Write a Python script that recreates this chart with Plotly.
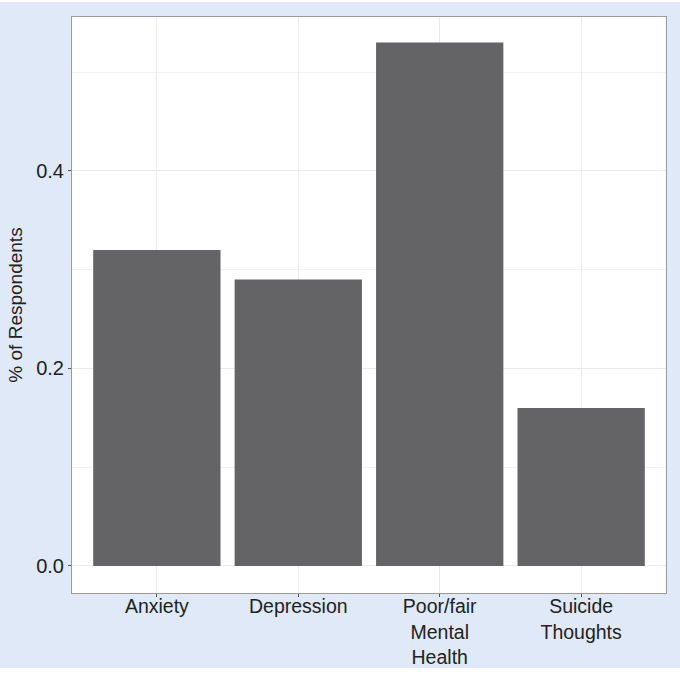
import plotly.graph_objects as go

categories = ["Anxiety", "Depression", "Poor/fair<br>Mental<br>Health", "Suicide<br>Thoughts"]
values = [0.32, 0.29, 0.53, 0.16]
y_tick_vals = [0.0, 0.2, 0.4]
y_tick_text = ["0.0", "0.2", "0.4"]

BLUE = "#dfe9f7"
FONT = "Liberation Sans, Arial, sans-serif"

fig = go.Figure()
fig.add_trace(go.Bar(
    x=list(range(len(categories))), y=values,
    marker=dict(color="#646467", line=dict(width=0)),
    width=0.9,
))

W, H = 680, 675
ml, mr, mt, mb = 72, 14, 17, 82
pw, ph = W - ml - mr, H - mt - mb

def fx(px):
    return (px - ml) / pw

def fy(py):
    return (H - mb - py) / ph

fig.update_layout(
    template="none",
    width=W, height=H, autosize=False,
    margin=dict(l=ml, r=mr, t=mt, b=mb, pad=0),
    paper_bgcolor="white",
    plot_bgcolor="white",
    showlegend=False,
    font=dict(family=FONT, size=20, color="#222222"),
    shapes=[
        dict(type="rect", xref="paper", yref="paper", layer="below",
             x0=fx(0), x1=fx(W), y0=fy(668), y1=fy(2),
             fillcolor=BLUE, line=dict(width=0)),
        dict(type="rect", xref="paper", yref="paper", layer="below",
             x0=0, x1=1, y0=0, y1=1,
             fillcolor="white", line=dict(width=0)),
    ],
    xaxis=dict(
        automargin=False,
        range=[-0.6, 3.6],
        tickmode="array", tickvals=list(range(len(categories))), ticktext=categories,
        showgrid=True, gridcolor="#ebebeb", gridwidth=1,
        showline=True, linecolor="#9a9a9a", linewidth=1, mirror=True,
        ticks="outside", ticklen=3, tickcolor="#555555",
        tickfont=dict(size=19.5, color="#222222"),
        ticklabelstandoff=-7,
        zeroline=False,
    ),
    yaxis=dict(
        automargin=False,
        range=[-0.0274, 0.5559],
        tickmode="array", tickvals=y_tick_vals, ticktext=y_tick_text,
        showgrid=True, gridcolor="#ebebeb", gridwidth=1,
        minor=dict(tickmode="array", tickvals=[0.1, 0.3, 0.5], showgrid=True,
                   gridcolor="#f3f3f3", gridwidth=1, ticks=""),
        showline=True, linecolor="#9a9a9a", linewidth=1, mirror=True,
        ticks="outside", ticklen=3, tickcolor="#555555",
        tickfont=dict(size=20, color="#222222"),
        zeroline=False,
        title=dict(text="% of Respondents", font=dict(size=19, color="#222222"), standoff=8),
    ),
)

fig.write_html(
    "out.html",
    config={"responsive": False, "displayModeBar": False},
    post_script="document.body.style.margin='0';document.body.style.overflow='hidden';",
)
